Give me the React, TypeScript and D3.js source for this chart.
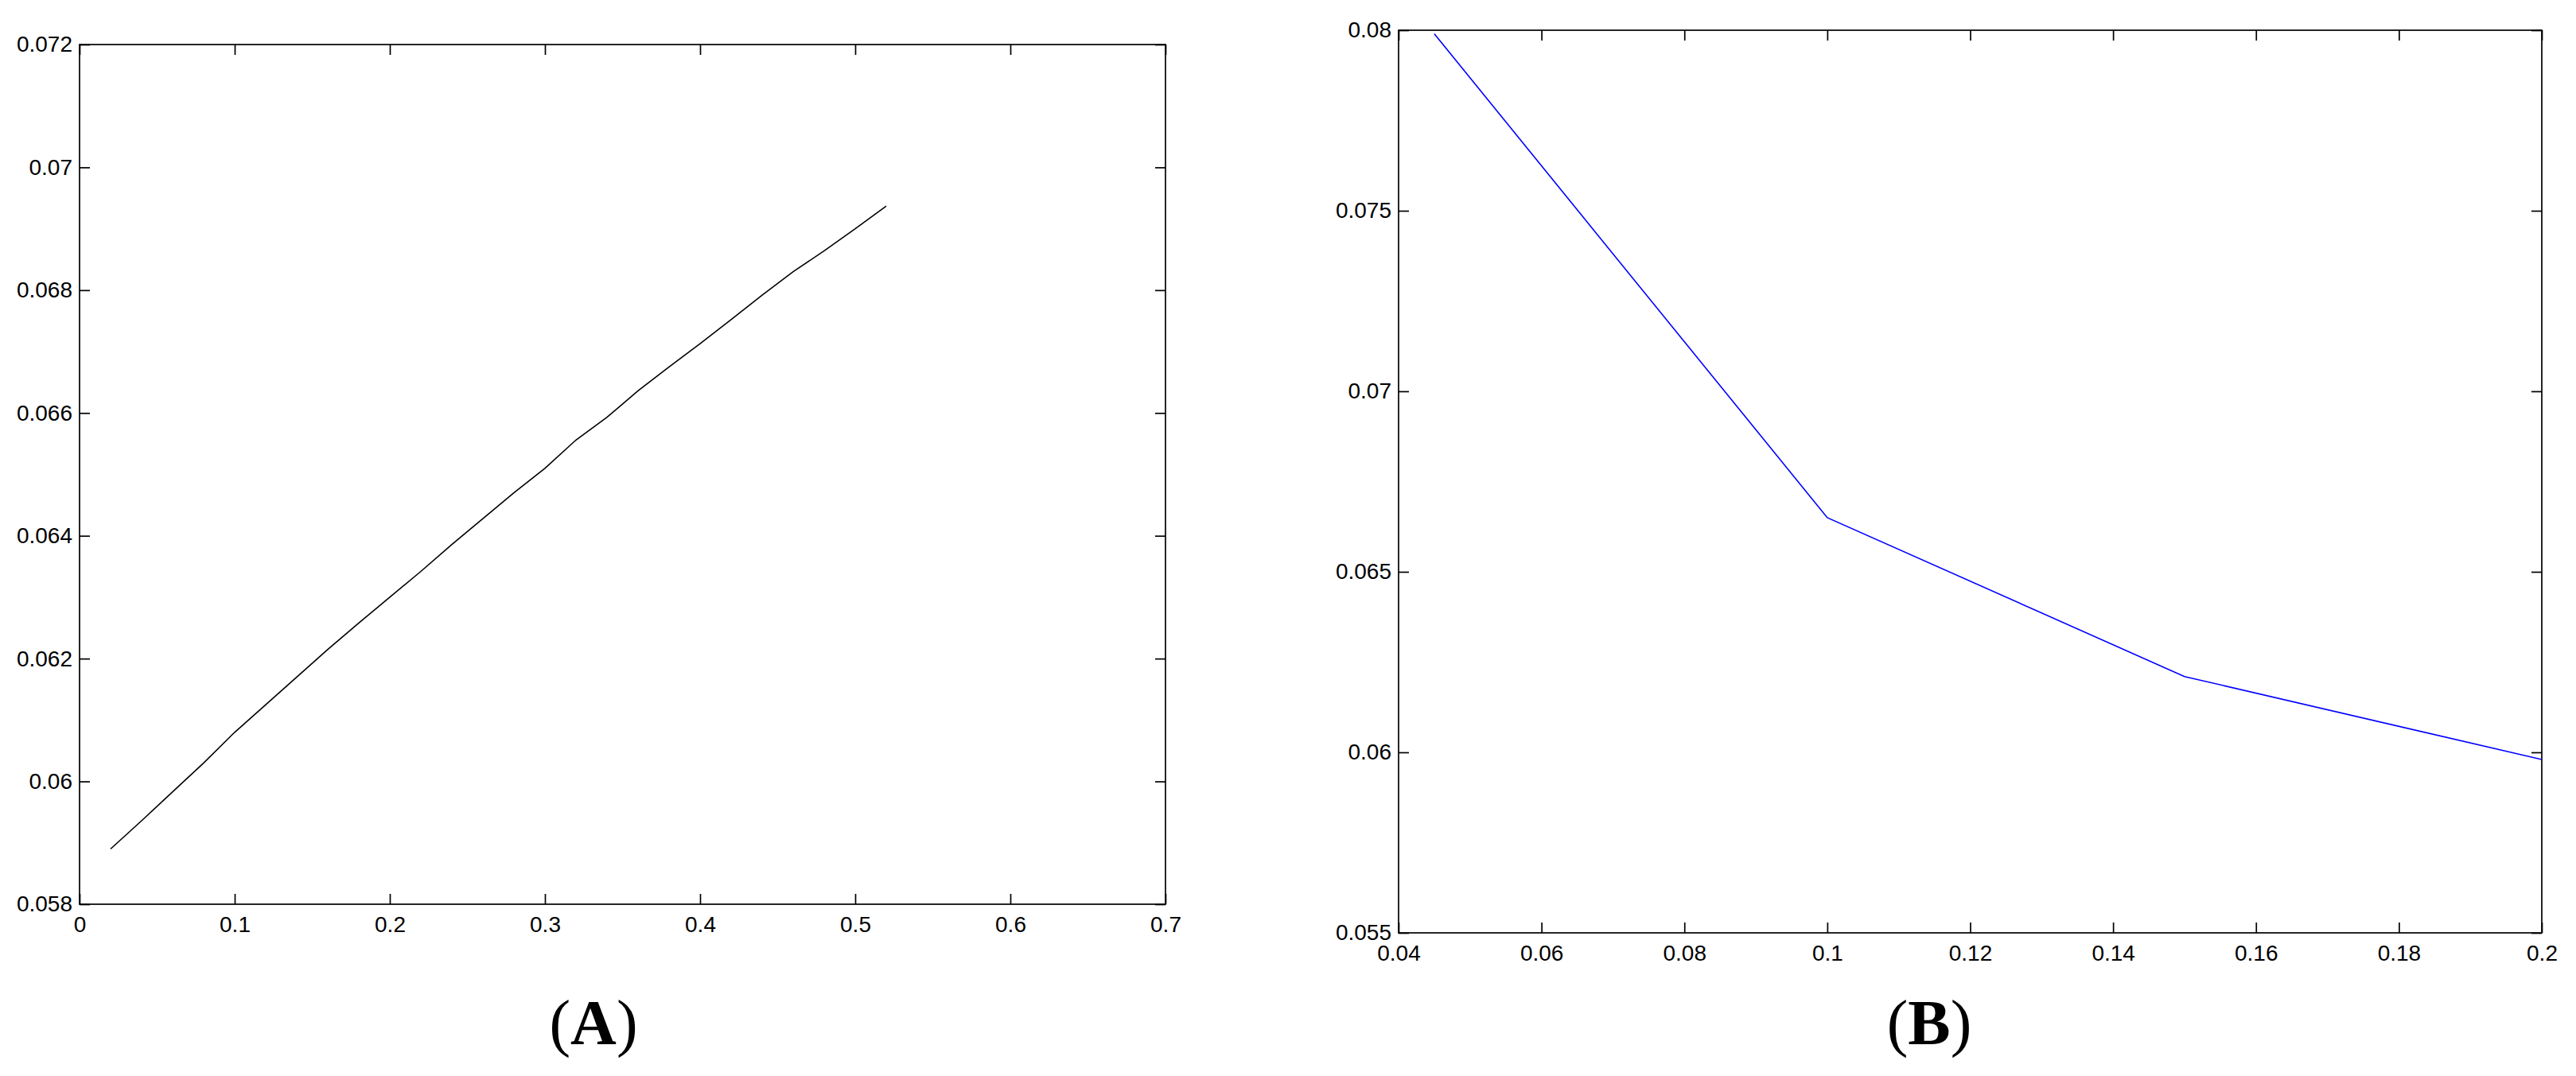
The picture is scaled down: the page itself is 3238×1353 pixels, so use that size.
import React, { useEffect, useRef } from "react";
import * as d3 from "d3";

// panel A: black curve
const A_X = [0.02, 0.04, 0.06, 0.08, 0.1, 0.12, 0.14, 0.16, 0.18, 0.2, 0.22, 0.24, 0.26,
  0.28, 0.3, 0.32, 0.34, 0.36, 0.38, 0.4, 0.42, 0.44, 0.46, 0.48, 0.5, 0.52];
const A_Y = [0.0589, 0.05936, 0.05983, 0.0603, 0.0608, 0.06125, 0.0617, 0.06215, 0.06258,
  0.063, 0.06342, 0.06386, 0.06428, 0.0647, 0.0651, 0.06556, 0.06593, 0.06636, 0.06675,
  0.06713, 0.06752, 0.06792, 0.0683, 0.06864, 0.069, 0.06937];
const A_XTICKS = [0, 0.1, 0.2, 0.3, 0.4, 0.5, 0.6, 0.7];
const A_YTICKS = [0.058, 0.06, 0.062, 0.064, 0.066, 0.068, 0.07, 0.072];

// panel B: blue polyline
const B_X = [0.045, 0.1, 0.15, 0.2];
const B_Y = [0.0799, 0.0665, 0.0621, 0.0598];
const B_XTICKS = [0.04, 0.06, 0.08, 0.1, 0.12, 0.14, 0.16, 0.18, 0.2];
const B_YTICKS = [0.055, 0.06, 0.065, 0.07, 0.075, 0.08];

const W = 3238, H = 1353;
const FONT = "'Liberation Sans', Arial, sans-serif";
const TICK = 13;

const fmt = (d) => String(+(+d).toFixed(4));

function drawPanel(svg, opt) {
  const { left, right, top, bottom, xDom, yDom, xTicks, yTicks, xs, ys, color, label, labelX, letter } = opt;
  const x = d3.scaleLinear().domain(xDom).range([left, right]);
  const y = d3.scaleLinear().domain(yDom).range([bottom, top]);
  const g = svg.append("g");

  const style = (ax) => {
    ax.select(".domain").remove();
    ax.attr("font-family", FONT).attr("font-size", 28);
    ax.selectAll("line").attr("stroke", "#000").attr("stroke-width", 1.7);
    ax.selectAll("text").attr("fill", "#000");
  };

  // --- bottom / left with labels, ticks pointing inward ---
  g.append("g").attr("transform", `translate(0,${bottom})`)
    .call(d3.axisBottom(x).tickValues(xTicks).tickFormat(fmt).tickSizeInner(-TICK).tickSizeOuter(0).tickPadding(15))
    .call(style);
  g.append("g").attr("transform", `translate(${left},0)`)
    .call(d3.axisLeft(y).tickValues(yTicks).tickFormat(fmt).tickSizeInner(-TICK).tickSizeOuter(0).tickPadding(9))
    .call(style);

  // --- mirrored ticks on top / right ---
  g.append("g").attr("transform", `translate(0,${top})`)
    .call(d3.axisTop(x).tickValues(xTicks).tickFormat(() => "").tickSizeInner(-TICK).tickSizeOuter(0))
    .call(style);
  g.append("g").attr("transform", `translate(${right},0)`)
    .call(d3.axisRight(y).tickValues(yTicks).tickFormat(() => "").tickSizeInner(-TICK).tickSizeOuter(0))
    .call(style);

  // --- frame ---
  g.append("rect")
    .attr("x", left).attr("y", top)
    .attr("width", right - left).attr("height", bottom - top)
    .attr("fill", "none").attr("stroke", "#000").attr("stroke-width", 1.7);

  // --- data ---
  const clipId = "clip-" + letter;
  g.append("clipPath").attr("id", clipId).append("rect")
    .attr("x", left).attr("y", top).attr("width", right - left).attr("height", bottom - top);
  const line = d3.line().x((d) => x(d[0])).y((d) => y(d[1]));
  g.append("path")
    .datum(xs.map((v, i) => [v, ys[i]]))
    .attr("clip-path", `url(#${clipId})`)
    .attr("d", line)
    .attr("fill", "none")
    .attr("stroke", color)
    .attr("stroke-width", 1.6);

  // --- caption ---
  const cap = g.append("text")
    .attr("x", labelX).attr("y", 1313)
    .attr("text-anchor", "middle")
    .attr("font-family", "'Liberation Serif', 'Times New Roman', serif")
    .attr("font-size", 80)
    .attr("fill", "#000");
  cap.append("tspan").text("(");
  cap.append("tspan").attr("font-weight", "bold").text(label);
  cap.append("tspan").text(")");
}

export default function App() {
  const svgRef = useRef(null);

  useEffect(() => {
    const svg = d3.select(svgRef.current);
    svg.selectAll("*").remove();
    svg.append("rect").attr("width", W).attr("height", H).attr("fill", "#fff");

    drawPanel(svg, {
      left: 100, right: 1465, top: 56, bottom: 1137,
      xDom: [0, 0.7], yDom: [0.058, 0.072],
      xTicks: A_XTICKS, yTicks: A_YTICKS,
      xs: A_X, ys: A_Y, color: "#000",
      label: "A", labelX: 746, letter: "a",
    });

    drawPanel(svg, {
      left: 1758, right: 3195, top: 38, bottom: 1173,
      xDom: [0.04, 0.2], yDom: [0.055, 0.08],
      xTicks: B_XTICKS, yTicks: B_YTICKS,
      xs: B_X, ys: B_Y, color: "#0000ff",
      label: "B", labelX: 2425, letter: "b",
    });
  }, []);

  return (
    <svg
      ref={svgRef}
      width={W}
      height={H}
      style={{ position: "absolute", left: 0, top: 0, display: "block" }}
    />
  );
}
